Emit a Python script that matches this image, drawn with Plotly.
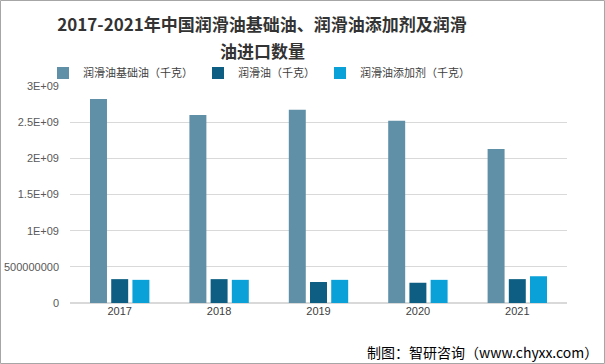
import plotly.graph_objects as go

years = ["2017", "2018", "2019", "2020", "2021"]
base_oil = [2.82e9, 2.60e9, 2.67e9, 2.52e9, 2.13e9]
lube_oil = [0.33e9, 0.33e9, 0.29e9, 0.28e9, 0.33e9]
additive = [0.32e9, 0.32e9, 0.32e9, 0.32e9, 0.37e9]
names = ["润滑油基础油（千克）", "润滑油（千克）", "润滑油添加剂（千克）"]
colors = ["#5F90A7", "#0D5E82", "#0AA0D8"]
tickvals = [0, 5e8, 1e9, 1.5e9, 2e9, 2.5e9, 3e9]
ticktext = ["0", "500000000", "1E+09", "1.5E+09", "2E+09", "2.5E+09", "3E+09"]
title_line1 = "2017-2021年中国润滑油基础油、润滑油添加剂及润滑"
title_line2 = "油进口数量"

font = "Noto Sans CJK SC, Microsoft YaHei, sans-serif"

fig = go.Figure()
for n, vals, c in zip(names, [base_oil, lube_oil, additive], colors):
    fig.add_trace(go.Bar(x=years, y=vals, name=n, marker_color=c, marker_line_width=0))

W, H = 605, 364
L, R, T, B = 70, 38, 0, 61
pw = W - L - R
ph = H - T - B          # paper height (303 px)
plot_top = 86           # px from top where y=3E+09 sits

def py(p):
    """pixel y from top -> paper y"""
    return (H - B - p) / ph

def px(p):
    return (p - L) / pw

title_font = dict(size=17, color="#333333", family=font, weight="bold")

fig.update_layout(
    width=W, height=H,
    margin=dict(l=L, r=R, t=T, b=B, autoexpand=False),
    paper_bgcolor="white", plot_bgcolor="white",
    barmode="group", bargap=0.36, bargroupgap=0.2,
    font=dict(family=font, color="#595959", size=11),
    title=dict(
        text=title_line1,
        x=262 / W, xanchor="center", xref="container",
        y=1 - 25 / H, yanchor="middle", yref="container",
        font=title_font,
    ),
    legend=dict(
        orientation="h", x=px(259), xanchor="center",
        y=py(73), yanchor="middle",
        font=dict(size=11, color="#404040"),
        itemwidth=30, tracegroupgap=0, bgcolor="rgba(0,0,0,0)",
    ),
    xaxis=dict(
        showgrid=False, showline=False, ticks="", automargin=False,
        tickfont=dict(size=11, color="#404040", family="Liberation Sans, Arial"),
    ),
    yaxis=dict(
        domain=[0, py(plot_top)],
        range=[0, 3e9], tickvals=tickvals, ticktext=ticktext,
        showgrid=True, gridcolor="#D9D9D9", gridwidth=1, automargin=False,
        zeroline=True, zerolinecolor="#D9D9D9", showline=False, ticks="",
        ticklabelstandoff=10,
        tickfont=dict(size=11, color="#595959", family="Liberation Sans, Arial"),
    ),
    showlegend=True,
)

fig.add_annotation(
    text=title_line2,
    xref="paper", yref="paper",
    x=px(262), y=py(50),
    xanchor="center", yanchor="middle", showarrow=False,
    font=title_font,
)

fig.add_annotation(
    text="制图：智研咨询（www.chyxx.com）",
    xref="paper", yref="paper",
    x=px(600), y=py(352),
    xanchor="right", yanchor="middle", showarrow=False,
    font=dict(size=14, color="#000000", family=font),
)

fig.add_shape(
    type="rect", xref="paper", yref="paper",
    x0=px(0.5), x1=px(W - 0.5),
    y0=py(H - 0.5), y1=py(0.5),
    line=dict(color="#A6A6A6", width=1), fillcolor="rgba(0,0,0,0)", layer="below",
)

fig.write_html(
    "out.html",
    config={"displayModeBar": False},
    post_script="document.body.style.margin='0px';document.body.style.overflow='hidden';",
)
